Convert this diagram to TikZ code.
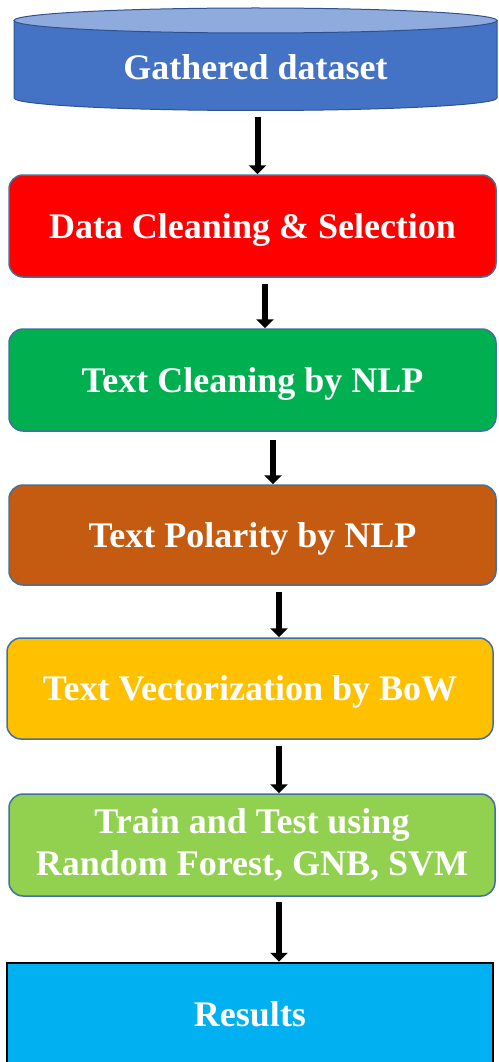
\documentclass[tikz,border=0pt]{standalone}
\usepackage{fontspec}
\setmainfont{Liberation Serif}
\usetikzlibrary{arrows.meta}
\definecolor{dsbody}{HTML}{4472C4}
\definecolor{dstop}{HTML}{8FAADC}
\definecolor{dsedge}{HTML}{2F528F}
\definecolor{boxedge}{HTML}{41719C}
\definecolor{cleanred}{HTML}{FF0000}
\definecolor{nlpgreen}{HTML}{00B050}
\definecolor{polbrown}{HTML}{C55A11}
\definecolor{vecyellow}{HTML}{FFC000}
\definecolor{trainlime}{HTML}{92D050}
\definecolor{resblue}{HTML}{00B0F0}

\begin{document}
\begin{tikzpicture}[x=1pt,y=-1pt,
    stage/.style={draw=boxedge,line width=1.5pt,rounded corners=14pt,
      minimum width=487pt,minimum height=102pt,inner sep=0pt,
      text=white,font=\fontsize{36}{42}\selectfont\bfseries,align=center,
      text height=26pt,text depth=2pt},
    flow/.style={line width=6pt,-{Triangle[width=17pt,length=9pt]}}]
  \useasboundingbox (0,0) rectangle (498,1062);

  % the dataset drum
  \filldraw[fill=dsbody,draw=dsedge,line width=1pt] (14,20.5) -- (14,98)
      arc[start angle=180,end angle=360,x radius=241.5pt,y radius=12.5pt] -- (497,20.5) -- cycle;
  \filldraw[fill=dstop,draw=dsedge,line width=1pt] (255.5,20.5) ellipse[x radius=241.5pt,y radius=12.5pt];

  \node[stage,draw=none,minimum width=483pt,minimum height=84pt] (ds) at (255.5,68) {Gathered dataset};
  \node[stage,fill=cleanred]  (clean) at (252.5,226)  {Data Cleaning \& Selection};
  \node[stage,fill=nlpgreen]  (nlp)   at (252.5,380)  {Text Cleaning by NLP};
  \node[stage,fill=polbrown,minimum height=100pt] (pol) at (252.5,535) {Text Polarity by NLP};
  \node[stage,fill=vecyellow,minimum width=486pt,minimum height=101pt] (vec) at (250,688.5) {Text Vectorization by BoW};
  \node[stage,fill=trainlime,minimum width=486pt,text height={},text depth={}] (train) at (252,845)
      {Train and Test using\\Random Forest, GNB, SVM};
  \node[stage,fill=resblue,draw=black,line width=2.5pt,rounded corners=0pt,
      minimum width=486pt,minimum height=103pt] (res) at (250,1014.5) {Results};

  \draw[flow] ([xshift=2pt,yshift=-6pt]ds.south)       -- ([xshift=5pt]clean.north);
  \draw[flow] ([xshift=12.5pt,yshift=-6pt]clean.south) -- ([xshift=12.5pt]nlp.north);
  \draw[flow] ([xshift=20.5pt,yshift=-8pt]nlp.south)   -- ([xshift=20.5pt]pol.north);
  \draw[flow] ([xshift=26.5pt,yshift=-6pt]pol.south)   -- ([xshift=29pt]vec.north);
  \draw[flow] ([xshift=29pt,yshift=-6pt]vec.south)     -- ([xshift=27pt]train.north);
  \draw[flow] ([xshift=27pt,yshift=-5pt]train.south)   -- ([xshift=29pt]res.north);
\end{tikzpicture}
\end{document}
